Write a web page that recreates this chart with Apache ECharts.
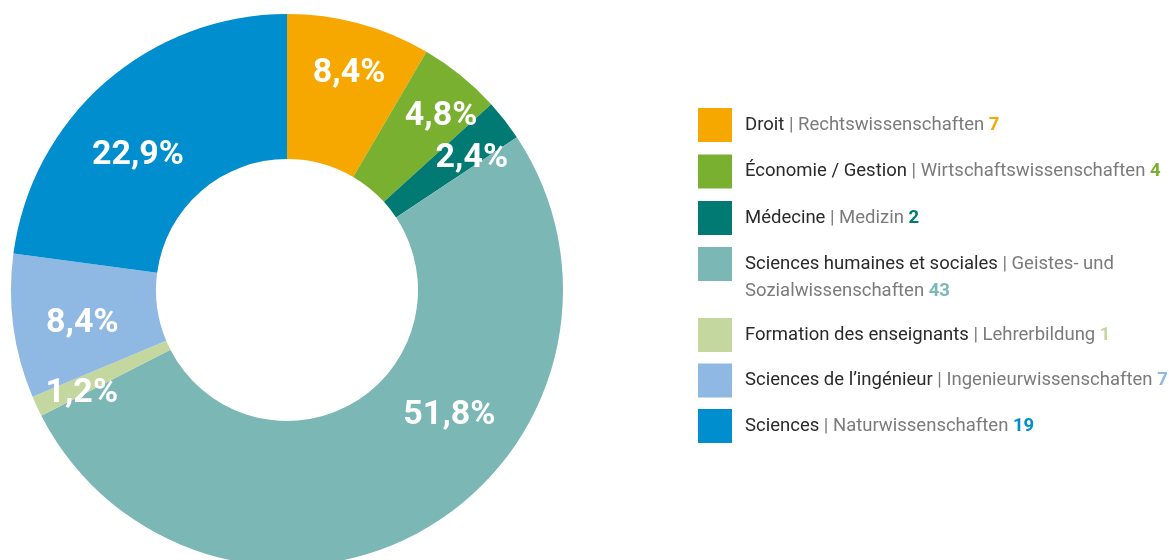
<!DOCTYPE html>
<html>
<head>
<meta charset="utf-8">
<script src="https://cdn.jsdelivr.net/npm/echarts@6/dist/echarts.min.js"></script>
<style>
html,body{margin:0;padding:0;background:#fff;}
#chart{width:1169px;height:560px;}
</style>
</head>
<body>
<div id="chart"></div>
<script>
// ---- data ----
var namesFr = ['Droit', 'Économie / Gestion', 'Médecine', 'Sciences humaines et sociales', 'Formation des enseignants', 'Sciences de l’ingénieur', 'Sciences'];
var namesDe = ['Rechtswissenschaften', 'Wirtschaftswissenschaften', 'Medizin', 'Geistes- und\nSozialwissenschaften', 'Lehrerbildung', 'Ingenieurwissenschaften', 'Naturwissenschaften'];
var values = [7, 4, 2, 43, 1, 7, 19];

// ---- styles ----
var colors = ['#F7A800', '#7AB030', '#007A72', '#7AB7B5', '#C3D79E', '#8FB8E3', '#008ECE'];
var labelOffsets = [[8, -17], [24, -13], [22, -5], [58, -53], [-18, 16], [0, 6], [-13, 21]];

var FONT = 'Roboto, "Liberation Sans", sans-serif';
var LFS = 18.5;
var total = values.reduce(function (a, b) { return a + b; }, 0);

var seriesData = namesFr.map(function (n, i) {
  return { name: n, value: values[i], itemStyle: { color: colors[i] } };
});

var rich = {
  fr: { color: '#2a2a2a', fontSize: LFS, fontFamily: FONT, lineHeight: 27 },
  sep: { color: '#7a7a7a', fontSize: LFS, fontFamily: FONT, lineHeight: 27 },
  de: { color: '#7b7b7b', fontSize: LFS, fontFamily: FONT, lineHeight: 27 }
};
colors.forEach(function (c, i) {
  rich['v' + i] = { color: c, fontSize: LFS, fontWeight: 'bold', fontFamily: FONT, lineHeight: 27 };
});

function legendFormatter(name) {
  var i = namesFr.indexOf(name);
  var deParts = namesDe[i].split('\n');
  var s = '{fr|' + name + '} {sep||} ';
  if (deParts.length > 1) {
    s += '{de|' + deParts[0] + '}\n{de|' + deParts[1] + '} ';
  } else {
    s += '{de|' + deParts[0] + '} ';
  }
  s += '{v' + i + '|' + values[i] + '}';
  return s;
}

function makeLegend(idxs, top, gap, extraPad) {
  return {
    orient: 'vertical',
    left: 698,
    top: top,
    padding: 0,
    itemWidth: 34,
    itemHeight: 34,
    itemGap: gap,
    icon: 'rect',
    selectedMode: false,
    data: idxs.map(function (i) {
      return {
        name: namesFr[i],
        icon: 'rect',
        itemStyle: { color: colors[i] },
        textStyle: { padding: [extraPad || 0, 0, 0, 8], rich: rich }
      };
    }),
    formatter: legendFormatter,
    textStyle: { rich: rich, fontFamily: FONT, fontSize: LFS, lineHeight: 27, padding: [0, 0, 0, 8] }
  };
}

var chart = echarts.init(document.getElementById('chart'), null, { renderer: 'canvas' });
chart.setOption({
  animation: false,
  backgroundColor: '#ffffff',
  legend: [
    makeLegend([0, 1, 2], 108, 12.5, 0),
    makeLegend([3], 223.5, 0, 27),
    makeLegend([4, 5, 6], 318, 11.5, 0)
  ],
  series: [{
    type: 'pie',
    center: [287, 290],
    radius: [131, 276],
    startAngle: 90,
    clockwise: true,
    avoidLabelOverlap: false,
    emphasis: { disabled: true },
    label: {
      show: true,
      position: 'inside',
      color: '#ffffff',
      fontFamily: FONT,
      fontWeight: 'bold',
      fontSize: 34,
      formatter: function (p) {
        return (p.value / total * 100).toFixed(1).replace('.', ',') + '%';
      }
    },
    labelLine: { show: false },
    labelLayout: function (p) {
      var o = labelOffsets[p.dataIndex];
      return { dx: o[0], dy: o[1] };
    },
    itemStyle: { borderWidth: 0 },
    data: seriesData
  }]
});
</script>
</body>
</html>
